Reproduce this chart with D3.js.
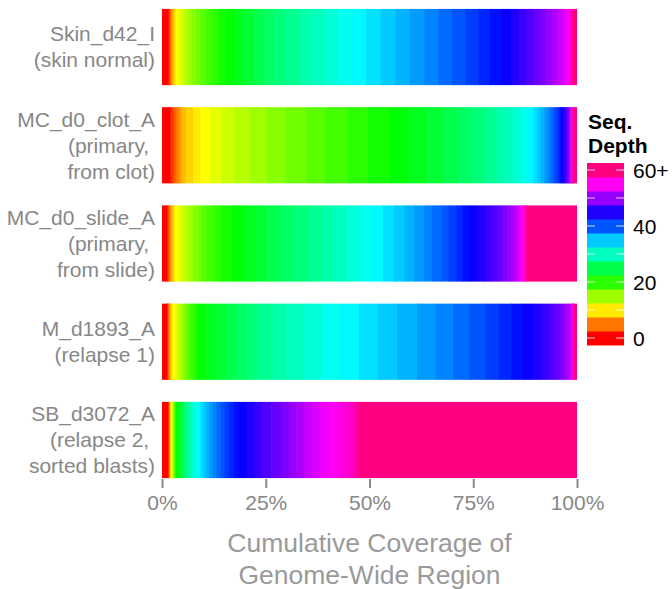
<!DOCTYPE html>
<html>
<head>
<meta charset="utf-8">
<script src="https://cdn.jsdelivr.net/npm/d3@7"></script>
<style>
  body { margin: 0; background: #fff; }
  text { font-family: "Liberation Sans", Arial, Helvetica, sans-serif; }
</style>
</head>
<body>
<svg id="chart" width="672" height="589"></svg>
<script>
// ---- data ----
const samples = ["Skin_d42_I", "MC_d0_clot_A", "MC_d0_slide_A", "M_d1893_A", "SB_d3072_A"];
const sampleNotes = [
  ["(skin normal)"],
  ["(primary, ", "from clot)"],
  ["(primary, ", "from slide)"],
  ["(relapse 1)"],
  ["(relapse 2, ", "sorted blasts)"]
];
// % of genome-wide region at sequencing depth 0,1,...,59 and 60+
const skinDepth = [1.45, .19,.14,.14,.14,.17,.19,.19,.22,.24,.29, .60, .65,.72,.84,.96,1.04,1.11,1.28,1.45,1.61,1.76,
  2.24,2.17,2.41,2.41,2.41,2.82,3.28,2.89, 3.30,3.13,3.30,3.37,3.61,3.45,3.54,3.45,3.37,3.30,3.21,3.13,2.65,2.65,2.58,
  1.93,1.81,1.69,1.57,1.45,1.33,1.20,1.08,.84,.72,.48,.31,.19,.12,.10, 1.11];
const clotDepth = [1.93, .29,.31,.36,.48,.48,.48,.48,.96,1.69,1.69, 2.41, 2.72,3.06,3.86,4.02,4.65,4.82,4.82,5.30,4.82,5.06,
  4.58,4.34,4.17,3.37,3.37,3.06,2.58,2.41,2.00,2.00,1.45,1.37, .96,.84,.84,.72,.72,.72,.60,.60,.48,.36,.36,
  .36,.29,.24,.24,.22,.19,.17,.14,.12,.10,.10,.07,.07,.05,.05, .96];
const slideDepth = [1.20, .12,.12,.12,.12,.24,.24,.24,.24,.24,.24, .72, .80,.82,.96,.96,1.11,.96,1.20,1.86,1.93,2.41,
  2.89,2.80,2.82,3.06,3.13,3.45,3.37,3.06,3.21,2.82,3.13,2.65,2.65,2.58,2.24,2.41,1.93,2.24,1.81,1.81,1.52,1.69,1.86,
  1.78,1.59,1.45,1.20,1.13,1.04,.96,.65,.48,.48,.36,.24,.19,.12,.10, 12.24];
const relapse1Depth = [1.20, .10,.10,.10,.12,.12,.14,.14,.17,.17,.22, .63, .43,.43,.48,.48,.53,.55,.60,.65,.72,.75,
  1.83,2.41,2.41,2.41,2.65,2.41,3.37,3.61,4.27,4.34,4.27,4.65,4.58,4.58,4.82,4.41,4.27,3.86,3.86,
  3.25,3.01,2.77,2.53,2.05,1.69,1.45,1.20,.96,.72,.55,.41,.29,.19,.12,.07,.05,.04,.02, .78];
const relapse2Depth = [1.45, .07,.07,.07,.07,.07,.07,.07,.07,.07,.07, .24, .10,.10,.10,.10,.10,.10,.10,.10,.10,.10, .48,
  .39,.39,.41,.41,.43,.46,.48,.51,.53,.58, .72, .67,.72,.80,.84,.89,.94,.99,1.04,1.08,1.18, 2.24,
  1.76,1.76,2.24,2.27,1.93,1.83,1.86,1.93,2.05,2.22,2.17,2.41,1.20,.72,.48, 52.63];
const seriesValues = [skinDepth, clotDepth, slideDepth, relapse1Depth, relapse2Depth];

const xTicks = [0, 25, 50, 75, 100];
const legendSteps = [0, 5, 10, 15, 20, 25, 30, 35, 40, 45, 50, 55, 60];
const legendMarks = [0, 10, 20, 30, 40, 50, 60];
const legendTicks = [0, 20, 40, 60];
const legendTickLabels = ["0", "20", "40", "60+"];
const axisTitle = ["Cumulative Coverage of", "Genome-Wide Region"];
const legendTitle = ["Seq.", "Depth"];

// ---- scales ----
const svg = d3.select("#chart");
const x = d3.scaleLinear().domain([0, 100]).range([162, 577]);
const y = d3.scaleBand().domain(samples).range([-2.1, 489.1]).paddingInner(0.2245).paddingOuter(0.11225);
const color = d => d3.hsl(d * 5.5, 1, 0.5).toString();

// ---- bars ----
samples.forEach((s, i) => {
  const vals = seriesValues[i];
  const total = d3.sum(vals);
  let cum = 0;
  const segs = vals.map((v, d) => {
    const seg = { d, start: cum / total * 100, end: (cum + v) / total * 100 };
    cum += v;
    return seg;
  });
  const g = svg.append("g");
  g.selectAll("rect").data(segs).join("rect")
    .attr("x", p => x(p.start))
    .attr("width", p => Math.max(0, x(p.end) - x(p.start) + (p.d < 60 ? 0.6 : 0)))
    .attr("y", y(s))
    .attr("height", y.bandwidth())
    .attr("fill", p => color(p.d));

  const lines = [s].concat(sampleNotes[i]);
  const cy = y(s) + y.bandwidth() / 2;
  svg.append("g").selectAll("text").data(lines).join("text")
    .attr("x", 155)
    .attr("y", (t, k) => cy + (k - (lines.length - 1) / 2) * 26)
    .attr("dy", "0.35em")
    .attr("text-anchor", "end")
    .attr("font-size", 21)
    .attr("fill", "#878787")
    .style("white-space", "pre")
    .text(t => t);
});

// ---- x axis ----
const axis = svg.append("g")
  .attr("transform", "translate(0,479)")
  .call(d3.axisBottom(x).tickValues(xTicks).tickFormat(d => d + "%").tickSize(9).tickPadding(7));
axis.select(".domain").remove();
axis.selectAll(".tick line").attr("stroke", "#888").attr("stroke-width", 2);
axis.selectAll(".tick text").attr("fill", "#878787").attr("font-size", 21)
  .attr("font-family", "'Liberation Sans', Arial, Helvetica, sans-serif");

svg.append("g").selectAll("text").data(axisTitle).join("text")
  .attr("x", 369.5)
  .attr("y", (t, k) => 543 + k * 32)
  .attr("dy", "0.35em")
  .attr("text-anchor", "middle")
  .attr("font-size", 26.5)
  .attr("fill", "#9a9a9a")
  .text(t => t);

// ---- legend ----
const ly = d3.scaleLinear().domain([0, 60]).range([338, 170]);
const step = ly(0) - ly(5);
const lg = svg.append("g");
lg.selectAll("rect").data(legendSteps).join("rect")
  .attr("x", 587)
  .attr("width", 37)
  .attr("y", d => ly(d) - step / 2)
  .attr("height", step + 0.5)
  .attr("fill", d => color(d));
lg.selectAll("line.l").data(legendMarks).join("line")
  .attr("class", "l")
  .attr("x1", 587).attr("x2", 595)
  .attr("y1", d => ly(d)).attr("y2", d => ly(d))
  .attr("stroke", "#fff").attr("stroke-opacity", 0.8).attr("stroke-width", 1);
lg.selectAll("line.r").data(legendMarks).join("line")
  .attr("class", "r")
  .attr("x1", 616).attr("x2", 624)
  .attr("y1", d => ly(d)).attr("y2", d => ly(d))
  .attr("stroke", "#fff").attr("stroke-opacity", 0.8).attr("stroke-width", 1);
lg.selectAll("text.t").data(legendTicks).join("text")
  .attr("class", "t")
  .attr("x", 633)
  .attr("y", d => ly(d) + 1)
  .attr("dy", "0.35em")
  .attr("font-size", 21)
  .attr("fill", "#000")
  .text((d, k) => legendTickLabels[k]);
lg.selectAll("text.h").data(legendTitle).join("text")
  .attr("class", "h")
  .attr("x", 588)
  .attr("y", (t, k) => 129 + k * 24)
  .attr("font-size", 21)
  .attr("font-weight", "bold")
  .attr("fill", "#000")
  .text(t => t);
</script>
</body>
</html>
